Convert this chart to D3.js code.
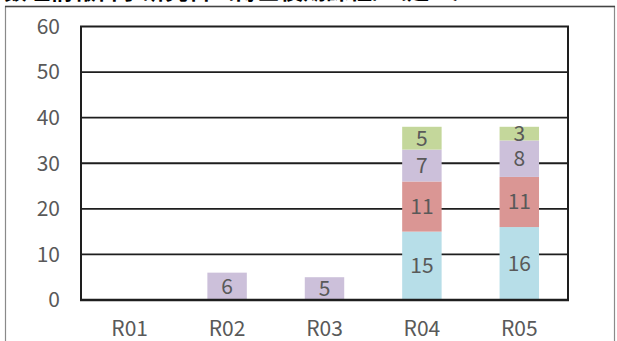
<!DOCTYPE html>
<html>
<head>
<meta charset="utf-8">
<title>R01-R05 stacked</title>
<script src="https://cdn.jsdelivr.net/npm/d3@7"></script>
<style>
    body { margin: 0; background: #fff; }
    svg { display: block; }
    .tick-label, .cat-label, .val-label {
        font-family: "Noto Sans CJK JP", "Noto Sans", sans-serif;
        fill: #595959;
    }
    .title {
        font-family: "Noto Sans CJK JP", sans-serif;
        font-weight: bold;
        fill: #000;
    }
</style>
</head>
<body>
<script>
    // data
    var categories = ["R01", "R02", "R03", "R04", "R05"];
    var seriesBlue   = [0, 0, 0, 15, 16];
    var seriesRed    = [0, 0, 0, 11, 11];
    var seriesPurple = [0, 6, 5, 7, 8];
    var seriesGreen  = [0, 0, 0, 5, 3];
    var yTicks = [0, 10, 20, 30, 40, 50, 60];
    var titleText = "数理情報科学研究科（博士後期課程）（延べ）";

    var seriesKeys = ["blue", "red", "purple", "green"];
    var colors = { blue: "#b7dee8", red: "#da9694", purple: "#ccc0da", green: "#c4d79b" };

    var width = 617, height = 341;
    var plot = { left: 81, right: 568, top: 26.5, bottom: 300 };

    var rows = categories.map(function (c, i) {
        return { cat: c, blue: seriesBlue[i], red: seriesRed[i], purple: seriesPurple[i], green: seriesGreen[i] };
    });
    var stacked = d3.stack().keys(seriesKeys)(rows);

    var svg = d3.select("body").append("svg")
        .attr("width", width)
        .attr("height", height);

    // title (cut off by the top edge, only the bottom of the glyphs shows)
    svg.append("text")
        .attr("class", "title")
        .attr("x", 4)
        .attr("y", -1)
        .attr("font-size", 23)
        .text(titleText);

    // outer frame
    svg.append("rect")
        .attr("x", 5.5).attr("y", 6.5)
        .attr("width", 609).attr("height", 345)
        .attr("fill", "none")
        .attr("stroke", "#8a8a8a")
        .attr("stroke-width", 1.2);
    svg.append("line")
        .attr("x1", 5).attr("x2", 615).attr("y1", 6.5).attr("y2", 6.5)
        .attr("stroke", "#444").attr("stroke-width", 1.5);

    var x = d3.scaleBand().domain(categories)
        .range([plot.left, plot.right])
        .paddingInner(0.595).paddingOuter(0.2975);
    var y = d3.scaleLinear().domain([0, 60]).range([plot.bottom, plot.top]);

    // gridlines
    svg.append("g").selectAll("line")
        .data(yTicks.filter(function (t) { return t > 0 && t < 60; }))
        .enter().append("line")
        .attr("x1", plot.left).attr("x2", plot.right)
        .attr("y1", function (d) { return y(d); })
        .attr("y2", function (d) { return y(d); })
        .attr("stroke", "#1e1e1e")
        .attr("stroke-width", 1.8);

    // plot border
    svg.append("rect")
        .attr("x", plot.left).attr("y", plot.top)
        .attr("width", plot.right - plot.left)
        .attr("height", plot.bottom - plot.top)
        .attr("fill", "none")
        .attr("stroke", "#1e1e1e")
        .attr("stroke-width", 2);

    // bars
    var layer = svg.append("g").selectAll("g")
        .data(stacked)
        .enter().append("g")
        .attr("fill", function (d) { return colors[d.key]; });

    layer.selectAll("rect")
        .data(function (d) { return d.filter(function (p) { return p[1] > p[0]; }); })
        .enter().append("rect")
        .attr("x", function (d) { return x(d.data.cat); })
        .attr("y", function (d) { return y(d[1]); })
        .attr("width", x.bandwidth())
        .attr("height", function (d) { return y(d[0]) - y(d[1]); });

    // bottom axis line drawn over bars
    svg.append("line")
        .attr("x1", plot.left - 1).attr("x2", plot.right + 1)
        .attr("y1", plot.bottom).attr("y2", plot.bottom)
        .attr("stroke", "#1e1e1e").attr("stroke-width", 2.5);

    // value labels
    layer.selectAll("text")
        .data(function (d) { return d.filter(function (p) { return p[1] > p[0]; }); })
        .enter().append("text")
        .attr("class", "val-label")
        .attr("x", function (d) { return x(d.data.cat) + x.bandwidth() / 2; })
        .attr("y", function (d) { return y((d[0] + d[1]) / 2); })
        .attr("dy", "0.35em")
        .attr("text-anchor", "middle")
        .attr("font-size", 21)
        .text(function (d) { return d[1] - d[0]; });

    // y tick labels
    svg.append("g").selectAll("text")
        .data(yTicks)
        .enter().append("text")
        .attr("class", "tick-label")
        .attr("x", 60)
        .attr("y", function (d) { return y(d); })
        .attr("dy", "0.35em")
        .attr("text-anchor", "end")
        .attr("font-size", 21)
        .text(function (d) { return d; });

    // category labels
    svg.append("g").selectAll("text")
        .data(categories)
        .enter().append("text")
        .attr("class", "cat-label")
        .attr("x", function (d) { return x(d) + x.bandwidth() / 2; })
        .attr("y", 336)
        .attr("text-anchor", "middle")
        .attr("font-size", 21)
        .text(function (d) { return d; });
</script>
</body>
</html>
